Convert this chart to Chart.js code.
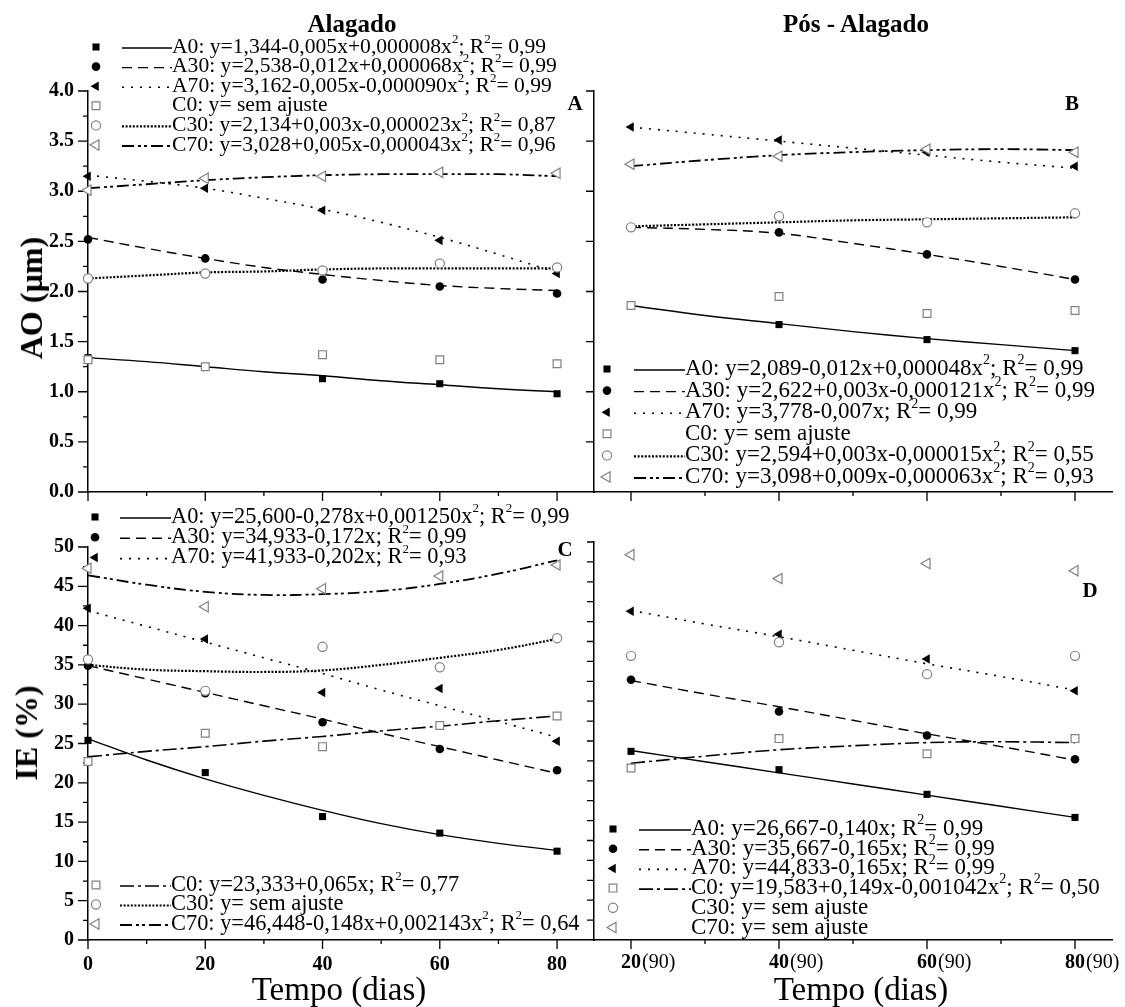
<!DOCTYPE html>
<html lang="pt-BR">
<head>
<meta charset="UTF-8">
<title>AO e IE - Alagado / Pós-Alagado</title>
<script src="https://cdn.jsdelivr.net/npm/chart.js@4.4.1/dist/chart.umd.min.js"></script>
<style>
  body { margin: 0; background: #fff; }
  #fig { position: relative; width: 1125px; height: 1007px; overflow: hidden; color: #000;
         font-family: 'Liberation Serif', 'Times New Roman', serif; }
  #fig canvas { position: absolute; left: 0; top: 0; }
  .t { position: absolute; white-space: nowrap; line-height: 1; transform: translate(-50%, -50%); }
  .rot { transform: translate(-50%, -50%) rotate(-90deg); }
  .b { font-weight: bold; }
</style>
</head>
<body>
<div id="fig">
  <canvas id="painelA" width="1125" height="1007"></canvas>
  <canvas id="painelB" width="1125" height="1007"></canvas>
  <canvas id="painelC" width="1125" height="1007"></canvas>
  <canvas id="painelD" width="1125" height="1007"></canvas>

  <div class="t b" style="left:352px;top:23px;font-size:25px">Alagado</div>
  <div class="t b" style="left:856px;top:23px;font-size:25px">Pós - Alagado</div>
  <div class="t b rot" style="left:31px;top:298px;font-size:32px">AO (µm)</div>
  <div class="t b rot" style="left:26px;top:733px;font-size:32px">IE (%)</div>
  <div class="t" style="left:339px;top:989px;font-size:33px">Tempo (dias)</div>
  <div class="t" style="left:861px;top:989px;font-size:33px">Tempo (dias)</div>
  <div class="t b" style="left:575px;top:103px;font-size:21px">A</div>
  <div class="t b" style="left:1072px;top:103px;font-size:21px">B</div>
  <div class="t b" style="left:565px;top:549px;font-size:21px">C</div>
  <div class="t b" style="left:1090px;top:590px;font-size:21px">D</div>
</div>

<script>
// ---- dados: alagado (0-80 dias) ----
const diasAlag = [0, 20, 40, 60, 80];
const diasAjAlag = [0, 10, 20, 30, 40, 50, 60, 70, 80];

// AO (µm) - alagado
const aoAlagA0 = [1.34, 1.25, 1.13, 1.08, 0.98];
const aoAlagA30 = [2.52, 2.33, 2.12, 2.05, 1.98];
const aoAlagA70 = [3.15, 3.03, 2.81, 2.51, 2.18];
const aoAlagC0 = [1.32, 1.25, 1.37, 1.32, 1.28];
const aoAlagC30 = [2.13, 2.18, 2.21, 2.28, 2.24];
const aoAlagC70 = [3.01, 3.13, 3.15, 3.19, 3.18];
// curvas ajustadas
const aoAjAlagA0 = [1.34, 1.30, 1.25, 1.20, 1.16, 1.11, 1.07, 1.03, 1.00];
const aoAjAlagA30 = [2.54, 2.43, 2.33, 2.24, 2.17, 2.11, 2.06, 2.03, 2.01];
const aoAjAlagA70 = [3.16, 3.10, 3.03, 2.93, 2.82, 2.69, 2.54, 2.37, 2.19];
const aoAjAlagC30 = [2.13, 2.16, 2.19, 2.20, 2.22, 2.23, 2.23, 2.23, 2.23];
const aoAjAlagC70 = [3.03, 3.07, 3.11, 3.14, 3.16, 3.17, 3.17, 3.17, 3.15];

// IE (%) - alagado
const ieAlagA0 = [25.4, 21.3, 15.7, 13.6, 11.3];
const ieAlagA30 = [34.9, 31.4, 27.7, 24.3, 21.6];
const ieAlagA70 = [42.2, 38.3, 31.5, 32.0, 25.3];
const ieAlagC0 = [22.7, 26.3, 24.6, 27.3, 28.5];
const ieAlagC30 = [35.7, 31.7, 37.3, 34.7, 38.4];
const ieAlagC70 = [47.3, 42.4, 44.7, 46.3, 47.7];
const ieAjAlagA0 = [25.6, 22.9, 20.5, 18.4, 16.5, 14.8, 13.4, 12.3, 11.4];
const ieAjAlagA30 = [34.9, 33.2, 31.5, 29.8, 28.1, 26.3, 24.6, 22.9, 21.2];
const ieAjAlagA70 = [41.9, 39.9, 37.9, 35.9, 33.9, 31.8, 29.8, 27.8, 25.8];
const ieAjAlagC0 = [23.3, 24.0, 24.6, 25.3, 25.9, 26.6, 27.2, 27.9, 28.5];
const ieAjAlagC30 = [35.0, 34.4, 34.2, 34.1, 34.3, 35.0, 35.9, 36.9, 38.3];
const ieAjAlagC70 = [46.4, 45.2, 44.3, 43.9, 44.0, 44.4, 45.3, 46.6, 48.3];

// ---- dados: pós-alagado ----
const diasPos = [20, 40, 60, 80];
const diasAjPos = [20, 30, 40, 50, 60, 70, 80];
const rotulosPos = ['20', '40', '60', '80'];
const sufixoPos = '(90)';

const aoPosA0 = [1.86, 1.67, 1.52, 1.41];
const aoPosA30 = [2.64, 2.59, 2.37, 2.12];
const aoPosA70 = [3.64, 3.51, 3.39, 3.25];
const aoPosC0 = [1.86, 1.95, 1.78, 1.81];
const aoPosC30 = [2.64, 2.75, 2.69, 2.78];
const aoPosC70 = [3.27, 3.35, 3.42, 3.39];
const aoAjPosA0 = [1.86, 1.76, 1.68, 1.60, 1.53, 1.47, 1.41];
const aoAjPosA30 = [2.64, 2.62, 2.58, 2.48, 2.37, 2.25, 2.12];
const aoAjPosA70 = [3.64, 3.57, 3.50, 3.43, 3.36, 3.29, 3.23];
const aoAjPosC30 = [2.65, 2.67, 2.69, 2.71, 2.72, 2.73, 2.74];
const aoAjPosC70 = [3.25, 3.31, 3.36, 3.39, 3.41, 3.42, 3.41];

const iePosA0 = [23.7, 21.4, 18.3, 15.4];
const iePosA30 = [32.7, 28.7, 25.7, 22.7];
const iePosA70 = [41.3, 38.4, 35.3, 31.3];
const iePosC0 = [21.6, 25.3, 23.4, 25.3];
const iePosC30 = [35.7, 37.4, 33.4, 35.7];
const iePosC70 = [48.4, 45.4, 47.3, 46.4];
const ieAjPosA0 = [23.8, 22.4, 21.0, 19.6, 18.2, 16.8, 15.4];
const ieAjPosA30 = [32.6, 30.9, 29.3, 27.6, 25.9, 24.3, 22.6];
const ieAjPosA70 = [41.4, 39.7, 38.1, 36.4, 34.7, 33.1, 31.4];
const ieAjPosC0 = [22.2, 23.1, 23.9, 24.4, 24.8, 24.9, 24.8];

// ---- textos das legendas ('^' = expoente) ----
const legAlagAO = [
  'A0: y=1,344-0,005x+0,000008x^2; R^2= 0,99',
  'A30: y=2,538-0,012x+0,000068x^2; R^2= 0,99',
  'A70: y=3,162-0,005x-0,000090x^2; R^2= 0,99',
  'C0: y= sem ajuste',
  'C30: y=2,134+0,003x-0,000023x^2; R^2= 0,87',
  'C70: y=3,028+0,005x-0,000043x^2; R^2= 0,96'
];
const legPosAO = [
  'A0: y=2,089-0,012x+0,000048x^2; R^2= 0,99',
  'A30: y=2,622+0,003x-0,000121x^2; R^2= 0,99',
  'A70: y=3,778-0,007x; R^2= 0,99',
  'C0: y= sem ajuste',
  'C30: y=2,594+0,003x-0,000015x^2; R^2= 0,55',
  'C70: y=3,098+0,009x-0,000063x^2; R^2= 0,93'
];
const legAlagIE1 = [
  'A0: y=25,600-0,278x+0,001250x^2; R^2= 0,99',
  'A30: y=34,933-0,172x; R^2= 0,99',
  'A70: y=41,933-0,202x; R^2= 0,93'
];
const legAlagIE2 = [
  'C0: y=23,333+0,065x; R^2= 0,77',
  'C30: y= sem ajuste',
  'C70: y=46,448-0,148x+0,002143x^2; R^2= 0,64'
];
const legPosIE = [
  'A0: y=26,667-0,140x; R^2= 0,99',
  'A30: y=35,667-0,165x; R^2= 0,99',
  'A70: y=44,833-0,165x; R^2= 0,99',
  'C0: y=19,583+0,149x-0,001042x^2; R^2= 0,50',
  'C30: y= sem ajuste',
  'C70: y= sem ajuste'
];

// ---- estilos de cada tratamento ----
const serif = "'Liberation Serif', 'Times New Roman', serif";
const cinza = '#808080';
const estilos = {
  A0:  { ponto: 'rect',     raio: 5,   rot: 0,   fundo: '#000', cor: '#000', aberto: false, traco: [],                 lw: 1.4 },
  A30: { ponto: 'circle',   raio: 4.3, rot: 0,   fundo: '#000', cor: '#000', aberto: false, traco: [10, 6],            lw: 1.4 },
  A70: { ponto: 'triangle', raio: 5.5, rot: -90, fundo: '#000', cor: '#000', aberto: false, traco: [2, 7],             lw: 1.6 },
  C0:  { ponto: 'rect',     raio: 5.5, rot: 0,   fundo: '#fff', cor: cinza,  aberto: true,  traco: [14, 4, 3, 4],      lw: 1.6 },
  C30: { ponto: 'circle',   raio: 4.6, rot: 0,   fundo: '#fff', cor: cinza,  aberto: true,  traco: [2, 1.6],           lw: 2.2 },
  C70: { ponto: 'triangle', raio: 6,   rot: -90, fundo: '#fff', cor: cinza,  aberto: true,  traco: [12, 4, 3, 3, 3, 4], lw: 1.8 }
};
const nomes = ['A0', 'A30', 'A70', 'C0', 'C30', 'C70'];

function pares(xs, ys) {
  return xs.map((x, i) => ({ x: x, y: ys[i] }));
}

function marcadores(nome, xs, ys) {
  const e = estilos[nome];
  return {
    label: nome, data: pares(xs, ys), showLine: false,
    pointStyle: e.ponto, pointRadius: e.raio, pointRotation: e.rot,
    pointBackgroundColor: e.fundo, pointBorderColor: e.cor,
    pointBorderWidth: e.aberto ? 1.2 : 0,
    order: e.aberto ? 0 : 1, clip: false
  };
}

function ajuste(nome, xs, ys) {
  const e = estilos[nome];
  return {
    label: nome + ' (ajuste)', data: pares(xs, ys), showLine: true,
    pointRadius: 0, borderColor: '#000', borderWidth: e.lw, borderDash: e.traco,
    tension: 0.4, fill: false, order: 2, clip: false
  };
}

function passos(a, b, d) {
  const v = [];
  for (let x = a; x <= b + 1e-9; x += d) v.push(+x.toFixed(4));
  return v;
}

function escreverRico(ctx, str, x, y, size) {
  let cx = x;
  ctx.textBaseline = 'middle';
  ctx.textAlign = 'left';
  ctx.fillStyle = '#000';
  str.split('^').forEach((p, i) => {
    let resto = p;
    if (i > 0) {
      ctx.font = Math.round(size * 0.6) + 'px ' + serif;
      ctx.fillText(p[0], cx, y - size * 0.36);
      cx += ctx.measureText(p[0]).width;
      resto = p.slice(1);
    }
    ctx.font = size + 'px ' + serif;
    ctx.fillText(resto, cx, y);
    cx += ctx.measureText(resto).width;
  });
}

function desenharLegenda(ctx, leg) {
  leg.series.forEach((nome, i) => {
    const e = estilos[nome];
    const y = leg.y0 + i * leg.dy;
    ctx.save();
    ctx.setLineDash([]);
    ctx.fillStyle = e.fundo;
    ctx.strokeStyle = e.cor;
    ctx.lineWidth = 1.2;
    Chart.helpers.drawPoint(ctx, { pointStyle: e.ponto, radius: e.raio, rotation: e.rot, borderWidth: e.aberto ? 1.2 : 0 }, leg.mx, y);
    if (leg.tracos[i]) {
      ctx.strokeStyle = '#000';
      ctx.lineWidth = e.lw;
      ctx.setLineDash(e.traco);
      ctx.beginPath();
      ctx.moveTo(leg.x1, y + 1);
      ctx.lineTo(leg.x2, y + 1);
      ctx.stroke();
    }
    ctx.restore();
    escreverRico(ctx, leg.textos[i], leg.tx, y, leg.size);
  });
}

// marcas de escala maiores/menores, voltadas para fora
function desenharMarcas(chart, m) {
  const ctx = chart.ctx;
  const sx = chart.scales.x, sy = chart.scales.y;
  const { left, bottom } = chart.chartArea;
  ctx.save();
  ctx.strokeStyle = '#000';
  ctx.lineWidth = 1.3;
  ctx.setLineDash([]);
  ctx.beginPath();
  m.xMaior.forEach(v => { const p = sx.getPixelForValue(v); ctx.moveTo(p, bottom); ctx.lineTo(p, bottom + 9); });
  m.xMenor.forEach(v => { const p = sx.getPixelForValue(v); ctx.moveTo(p, bottom); ctx.lineTo(p, bottom + 4); });
  m.yMaior.forEach(v => { const p = sy.getPixelForValue(v); ctx.moveTo(left, p); ctx.lineTo(left - m.lenY, p); });
  m.yMenor.forEach(v => { const p = sy.getPixelForValue(v); ctx.moveTo(left, p); ctx.lineTo(left - m.lenYm, p); });
  ctx.stroke();
  ctx.restore();
}

// rótulos "20(90)": número em negrito, sufixo normal
function desenharRotulosPos(chart, y) {
  const ctx = chart.ctx;
  const sx = chart.scales.x;
  ctx.save();
  ctx.fillStyle = '#000';
  ctx.textBaseline = 'middle';
  ctx.textAlign = 'left';
  diasPos.forEach((v, i) => {
    const p = sx.getPixelForValue(v);
    ctx.font = 'bold 20px ' + serif;
    const w = ctx.measureText(rotulosPos[i]).width;
    ctx.fillText(rotulosPos[i], p - w / 2, y);
    ctx.font = '20px ' + serif;
    ctx.fillText(sufixoPos, p + w / 2 + 1, y);
  });
  ctx.restore();
}

function criarPainel(id, p) {
  const W = 1125, H = 1007;
  const fonteTick = { family: serif, size: 20, weight: 'bold' };
  const plugin = {
    id: 'decoracao',
    beforeDatasetsDraw(chart) { desenharMarcas(chart, p.marcas); },
    afterDraw(chart) {
      p.legendas.forEach(l => desenharLegenda(chart.ctx, l));
      if (p.rotulosPos) desenharRotulosPos(chart, p.rotulosPos);
    }
  };
  return new Chart(document.getElementById(id), {
    type: 'scatter',
    data: { datasets: p.datasets },
    options: {
      responsive: false,
      animation: false,
      events: [],
      layout: { padding: { left: p.L - p.wy, right: W - p.R, top: p.T, bottom: H - p.B - p.hx } },
      plugins: { legend: { display: false }, tooltip: { enabled: false } },
      scales: {
        x: {
          type: 'linear', position: 'bottom', min: p.xMin, max: p.xMax,
          grid: { display: false, drawTicks: false },
          border: { display: true, color: '#000', width: 1.5 },
          ticks: {
            display: !!p.xRotulos, stepSize: 20, includeBounds: false, autoSkip: false,
            maxRotation: 0, padding: 13, color: '#000', font: fonteTick,
            callback: v => String(v)
          },
          afterFit: s => { s.height = p.hx; }
        },
        y: {
          type: 'linear', position: 'left', min: p.yMin, max: p.yMax,
          grid: { display: false, drawTicks: false },
          border: { display: true, color: '#000', width: 1.5 },
          ticks: {
            display: !!p.yRotulos, stepSize: p.yStep, includeBounds: false, autoSkip: false,
            padding: 14, color: '#000', font: fonteTick,
            callback: v => p.yFmt ? p.yFmt(v) : String(v)
          },
          afterFit: s => { s.width = p.wy; }
        }
      }
    },
    plugins: [plugin]
  });
}

const marcasXAlag = { xMaior: [0, 20, 40, 60, 80], xMenor: [10, 30, 50, 70] };
const marcasXPos = { xMaior: [20, 40, 60, 80], xMenor: [30, 50, 70] };

// A - AO, alagado
criarPainel('painelA', {
  L: 88, R: 594, T: 91, B: 492, wy: 88, hx: 0,
  xMin: 0, xMax: 86.3, yMin: 0, yMax: 4, yStep: 0.5, yRotulos: true, yFmt: v => v.toFixed(1),
  marcas: Object.assign({ yMaior: passos(0, 4, 0.5), yMenor: passos(0.25, 3.75, 0.5), lenY: 10, lenYm: 5 }, marcasXAlag),
  datasets: [
    ajuste('A0', diasAjAlag, aoAjAlagA0), ajuste('A30', diasAjAlag, aoAjAlagA30),
    ajuste('A70', diasAjAlag, aoAjAlagA70), ajuste('C30', diasAjAlag, aoAjAlagC30),
    ajuste('C70', diasAjAlag, aoAjAlagC70),
    marcadores('A0', diasAlag, aoAlagA0), marcadores('A30', diasAlag, aoAlagA30),
    marcadores('A70', diasAlag, aoAlagA70), marcadores('C0', diasAlag, aoAlagC0),
    marcadores('C30', diasAlag, aoAlagC30), marcadores('C70', diasAlag, aoAlagC70)
  ],
  legendas: [{ series: nomes, textos: legAlagAO, tracos: [true, true, true, false, true, true],
               mx: 96, x1: 122, x2: 172, tx: 172, y0: 47, dy: 19.6, size: 21.6 }]
});

// B - AO, pós-alagado
criarPainel('painelB', {
  L: 594, R: 1112, T: 91, B: 492, wy: 0, hx: 0,
  xMin: 15, xMax: 85, yMin: 0, yMax: 4, yStep: 0.5,
  marcas: Object.assign({ yMaior: passos(0.5, 4, 0.5), yMenor: [], lenY: 8, lenYm: 0 }, marcasXPos),
  datasets: [
    ajuste('A0', diasAjPos, aoAjPosA0), ajuste('A30', diasAjPos, aoAjPosA30),
    ajuste('A70', diasAjPos, aoAjPosA70), ajuste('C30', diasAjPos, aoAjPosC30),
    ajuste('C70', diasAjPos, aoAjPosC70),
    marcadores('A0', diasPos, aoPosA0), marcadores('A30', diasPos, aoPosA30),
    marcadores('A70', diasPos, aoPosA70), marcadores('C0', diasPos, aoPosC0),
    marcadores('C30', diasPos, aoPosC30), marcadores('C70', diasPos, aoPosC70)
  ],
  legendas: [{ series: nomes, textos: legPosAO, tracos: [true, true, true, false, true, true],
               mx: 607, x1: 634, x2: 685, tx: 685, y0: 369, dy: 21.6, size: 23 }]
});

// C - IE, alagado
criarPainel('painelC', {
  L: 88, R: 594, T: 547, B: 940, wy: 88, hx: 40,
  xMin: 0, xMax: 86.3, xRotulos: true, yMin: 0, yMax: 50, yStep: 5, yRotulos: true,
  marcas: Object.assign({ yMaior: passos(0, 50, 5), yMenor: passos(2.5, 47.5, 5), lenY: 10, lenYm: 5 }, marcasXAlag),
  datasets: [
    ajuste('A0', diasAjAlag, ieAjAlagA0), ajuste('A30', diasAjAlag, ieAjAlagA30),
    ajuste('A70', diasAjAlag, ieAjAlagA70), ajuste('C0', diasAjAlag, ieAjAlagC0),
    ajuste('C30', diasAjAlag, ieAjAlagC30), ajuste('C70', diasAjAlag, ieAjAlagC70),
    marcadores('A0', diasAlag, ieAlagA0), marcadores('A30', diasAlag, ieAlagA30),
    marcadores('A70', diasAlag, ieAlagA70), marcadores('C0', diasAlag, ieAlagC0),
    marcadores('C30', diasAlag, ieAlagC30), marcadores('C70', diasAlag, ieAlagC70)
  ],
  legendas: [
    { series: ['A0', 'A30', 'A70'], textos: legAlagIE1, tracos: [true, true, true],
      mx: 95, x1: 120, x2: 171, tx: 171, y0: 517, dy: 20.3, size: 22.4 },
    { series: ['C0', 'C30', 'C70'], textos: legAlagIE2, tracos: [true, true, true],
      mx: 96, x1: 120, x2: 171, tx: 171, y0: 885, dy: 19.5, size: 22.4 }
  ]
});

// D - IE, pós-alagado
criarPainel('painelD', {
  L: 594, R: 1112, T: 542, B: 940, wy: 0, hx: 40,
  xMin: 15, xMax: 85, yMin: 0, yMax: 50, yStep: 5,
  marcas: Object.assign({ yMaior: passos(5, 50, 5), yMenor: passos(2.5, 47.5, 5), lenY: 7, lenYm: 7 }, marcasXPos),
  rotulosPos: 963,
  datasets: [
    ajuste('A0', diasAjPos, ieAjPosA0), ajuste('A30', diasAjPos, ieAjPosA30),
    ajuste('A70', diasAjPos, ieAjPosA70), ajuste('C0', diasAjPos, ieAjPosC0),
    marcadores('A0', diasPos, iePosA0), marcadores('A30', diasPos, iePosA30),
    marcadores('A70', diasPos, iePosA70), marcadores('C0', diasPos, iePosC0),
    marcadores('C30', diasPos, iePosC30), marcadores('C70', diasPos, iePosC70)
  ],
  legendas: [{ series: nomes, textos: legPosIE, tracos: [true, true, true, true, false, false],
               mx: 613, x1: 639, x2: 691, tx: 691, y0: 829, dy: 19.7, size: 23 }]
});
</script>
</body>
</html>
